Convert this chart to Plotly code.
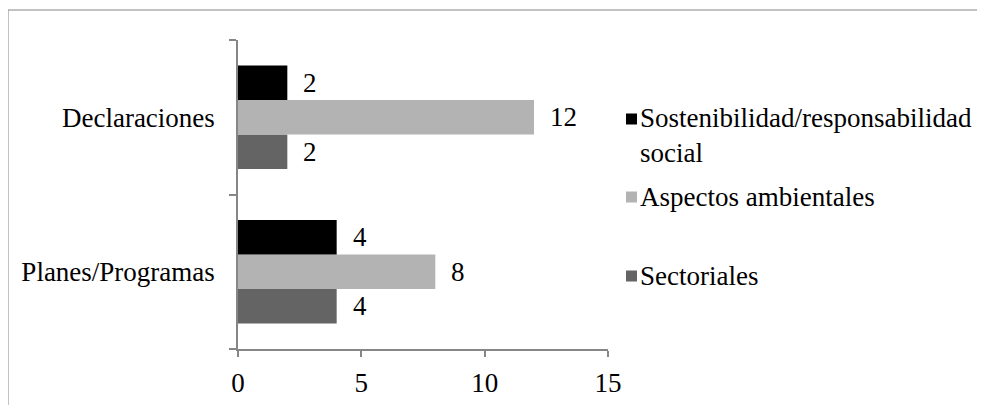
import plotly.graph_objects as go

# --- Data ---
categories = ['Planes/Programas', 'Declaraciones']
series_names = ['Sectoriales', 'Aspectos ambientales', 'Sostenibilidad/responsabilidad social']
sectoriales = [4, 2]
aspectos_ambientales = [8, 12]
sostenibilidad = [4, 2]
x_ticks = [0, 5, 10, 15]

# --- Style / layout constants ---
W, H = 985, 405                     # browser window
PAGE_OFF = 8                        # default <body> margin of the page
L, R, T, B = 238, 608, 40, 349      # plot area, page pixels
FONT = 'Liberation Serif, Times New Roman, serif'
FONT_SIZE = 27
AXIS_COLOR = '#868686'
colors = ['#646464', '#b3b3b3', '#000000']
BARGAP = 0.33


def to_paper(px, py):
    """Page pixel position -> paper coordinates."""
    return (px - L) / (R - L), (B - py) / (B - T)


series_values = [sectoriales, aspectos_ambientales, sostenibilidad]

fig = go.Figure()
for name, vals, col in zip(series_names, series_values, colors):
    fig.add_trace(go.Bar(
        y=categories, x=vals, name=name, orientation='h',
        marker=dict(color=col, line=dict(width=0)),
        showlegend=False, hoverinfo='x+name'))

# value labels next to each bar
bar_w = (1 - BARGAP) / len(series_names)
annotations = []
for j, vals in enumerate(series_values):
    offset = -(1 - BARGAP) / 2 + bar_w * (j + 0.5)
    for i, v in enumerate(vals):
        annotations.append(dict(
            x=v, y=i + offset, xref='x', yref='y', text=str(v),
            showarrow=False, xanchor='left', yanchor='middle', xshift=14,
            font=dict(family=FONT, size=FONT_SIZE, color='black')))

# hand-made legend (top to bottom as in the original)
legend_rows = [
    ('Sostenibilidad/responsabilidad<br>social', colors[2], 119, 135),
    ('Aspectos ambientales', colors[1], 197, 197),
    ('Sectoriales', colors[0], 276, 276),
]
shapes = []
for text, col, sq_y, txt_y in legend_rows:
    x0, y0 = to_paper(626, sq_y + 5.5)
    x1, y1 = to_paper(637, sq_y - 5.5)
    shapes.append(dict(type='rect', xref='paper', yref='paper',
                       x0=x0, y0=y0, x1=x1, y1=y1,
                       fillcolor=col, line=dict(width=0)))
    tx, ty = to_paper(638, txt_y)
    annotations.append(dict(
        x=tx, y=ty, xref='paper', yref='paper', text=text, align='left',
        showarrow=False, xanchor='left', yanchor='middle',
        font=dict(family=FONT, size=FONT_SIZE, color='black')))

# outer frame (only top and left edges are visible in the crop)
fx0, fy0 = to_paper(8, H)
fx1, fy1 = to_paper(W, 10)
shapes.append(dict(type='line', xref='paper', yref='paper',
                   x0=fx0, y0=fy0, x1=fx0, y1=fy1,
                   line=dict(color=AXIS_COLOR, width=1)))
shapes.append(dict(type='line', xref='paper', yref='paper',
                   x0=fx0, y0=fy1, x1=fx1, y1=fy1,
                   line=dict(color=AXIS_COLOR, width=1)))

fig.update_layout(
    width=W - PAGE_OFF, height=H - PAGE_OFF,
    margin=dict(l=L - PAGE_OFF, r=W - R, t=T - PAGE_OFF, b=H - B, pad=0,
                autoexpand=False),
    paper_bgcolor='white', plot_bgcolor='white',
    barmode='group', bargap=BARGAP, bargroupgap=0,
    font=dict(family=FONT, size=FONT_SIZE, color='black'),
    showlegend=False,
    annotations=annotations,
    shapes=shapes,
    xaxis=dict(range=[0, 15], tickvals=x_ticks, ticks='outside', ticklen=6,
               tickcolor=AXIS_COLOR, tickwidth=1.5, showline=True,
               linecolor=AXIS_COLOR, linewidth=1.5, showgrid=False,
               zeroline=False, ticklabelstandoff=3,
               tickfont=dict(family=FONT, size=FONT_SIZE)),
    yaxis=dict(type='category', categoryorder='array', categoryarray=categories,
               ticks='outside', ticklen=7, tickson='boundaries',
               tickcolor=AXIS_COLOR, tickwidth=1.5, showline=True,
               linecolor=AXIS_COLOR, linewidth=1.5, showgrid=False,
               ticklabelstandoff=16,
               tickfont=dict(family=FONT, size=FONT_SIZE)),
)

fig.write_html("out.html")
